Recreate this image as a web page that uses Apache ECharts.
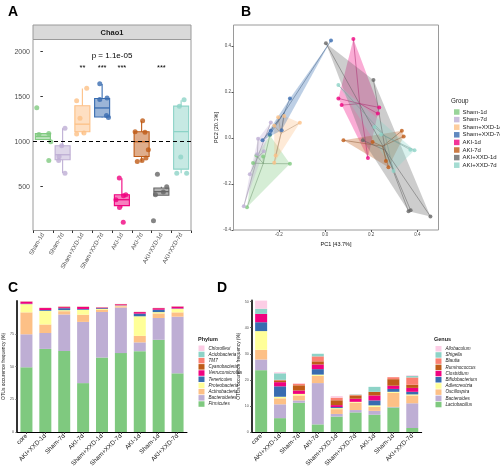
<!DOCTYPE html>
<html><head><meta charset="utf-8">
<script src="https://cdn.jsdelivr.net/npm/echarts@6/dist/echarts.min.js"></script>
<style>html,body{margin:0;padding:0;background:#fff}#c{width:500px;height:469px}</style>
</head><body><div id="c"></div>
<script>
// ---------- Panel A data (Chao1) ----------
const groups = ['Sham-1d','Sham-7d','Sham+XXD-1d','Sham+XXD-7d','AKI-1d','AKI-7d','AKI+XXD-1d','AKI+XXD-7d'];
const groupColors = ['#7FC97F','#BEAED4','#FDC086','#386CB0','#F0027F','#BF5B17','#666666','#8DD3C7'];
// [lower whisker, Q1, median, Q3, upper whisker]
const chaoBox = [
  [1025,1025,1058,1090,1095],
  [652,800,855,955,1150],
  [1085,1110,1195,1400,1590],
  [1270,1275,1375,1480,1640],
  [265,290,355,410,595],
  [780,835,1000,1110,1230],
  [405,405,445,485,500],
  [650,695,1112,1395,1462]
];
// observed samples: [value, horizontal jitter in category units]
const chaoPoints = [
  [[1378,-0.31],[1080,-0.2],[1090,0.3],[1000,0.4],[790,0.3]],
  [[1150,0.12],[955,-0.05],[835,-0.18],[790,-0.2],[650,0.12]],
  [[1595,0.22],[1455,-0.29],[1260,-0.12],[1085,-0.29],[1096,0.08]],
  [[1645,-0.12],[1485,0.25],[1470,-0.12],[1290,0.22],[1270,0.32]],
  [[597,-0.13],[410,0.2],[400,0.08],[356,-0.3],[270,-0.12],[104,0.07]],
  [[1232,0.05],[1110,-0.33],[1105,0.17],[910,0.34],[820,0.22],[790,0.02],[780,-0.22]],
  [[637,-0.2],[500,0.27],[440,0.1],[410,-0.3],[122,-0.4]],
  [[1465,0.15],[1395,-0.09],[830,-0.02],[650,-0.22],[650,0.28]]
];
const chaoSig = ['','','**','***','***','','***',''];
const chaoP = 'p = 1.1e-05';
const chaoRef = 1000;
const chaoTicks = [500,1000,1500,2000];

// ---------- Panel B data (PCoA) ----------
const pcoaSham1d = [[-0.239,0.012],[-0.297,-0.076],[-0.268,-0.08],[-0.312,-0.109],[-0.152,-0.112],[-0.338,-0.301]];
const pcoaSham7d = [[-0.235,0.067],[-0.29,-0.003],[-0.265,-0.058],[-0.294,-0.071],[-0.326,-0.158],[-0.352,-0.297]];
const pcoaShamXXD1d = [[-0.203,0.09],[-0.177,0.096],[-0.109,0.066],[-0.22,0.053],[-0.214,-0.076],[-0.22,-0.108]];
const pcoaShamXXD7d = [[0.026,0.424],[-0.152,0.172],[-0.188,0.034],[-0.235,0.031],[-0.239,0.015],[-0.271,-0.01]];
const pcoaAKI1d = [[0.123,0.43],[0.058,0.172],[0.072,0.143],[0.235,0.133],[0.229,0.106],[0.186,-0.087]];
const pcoaAKI7d = [[0.08,-0.01],[0.206,-0.017],[0.333,0.031],[0.341,0.007],[0.264,-0.1],[0.275,-0.127]];
const pcoaAKIXXD1d = [[0.004,0.412],[0.21,0.252],[0.164,-0.01],[0.362,-0.319],[0.371,-0.314],[0.457,-0.341]];
const pcoaAKIXXD7d = [[0.058,0.23],[0.214,0.048],[0.243,0.015],[0.37,-0.051],[0.388,-0.053],[0.297,-0.144]];
const pcoaGroups = [pcoaSham1d,pcoaSham7d,pcoaShamXXD1d,pcoaShamXXD7d,pcoaAKI1d,pcoaAKI7d,pcoaAKIXXD1d,pcoaAKIXXD7d];
const pcoaXTicks = [-0.2,0,0.2,0.4];
const pcoaYTicks = [-0.4,-0.2,0,0.2,0.4];

// ---------- Panels C & D data ----------
const barCats = ['core','AKI+XXD-1d','Sham-7d','AKI-7d','Sham+XXD-1d','Sham+XXD-7d','AKI-1d','Sham-1d','AKI+XXD-7d'];
const phyla = ['Firmicutes','Bacteroidetes','Actinobacteria','Proteobacteria','Tenericutes','Verrucomicrobia','Cyanobacteria','TM7','Acidobacteria','Chloroflexi'];
const phylumColors = ['#7FC97F','#BEAED4','#FDC086','#FFFF99','#386CB0','#F0027F','#BF5B17','#FB8072','#8DD3C7','#FCCDE5'];
const firmicutes      = [49.5,63.6,62.0,37.4,57.0,60.4,61.9,70.6,44.9];
const bacteroidetes   = [25.3,12.2,28.0,46.9,34.9,34.9,6.7,16.7,43.4];
const actinobacteria  = [16.8,6.5,2.5,5.5,1.5,1.0,5.0,3.5,3.3];
const proteobacteria  = [6.3,10.5,0.8,3.8,0.8,0.5,15.0,1.0,2.7];
const tenericutes     = [0.3,0.6,1.5,0.6,0.6,0.2,2.0,1.8,0.3];
const verrucomicrobia = [1.6,1.5,0.8,1.5,0.5,0.8,1.2,1.2,1.4];
const cyanobacteria   = [0.1,0.1,0.2,0.1,0.1,0.1,0.1,0.1,0.1];
const tm7             = [0.1,0.1,0.3,0.2,0.1,0.1,0.1,0.1,0.1];
const acidobacteria   = [0.05,0.05,0.05,0.05,0.05,0.05,0.05,0.05,0.05];
const chloroflexi     = [0.05,0.05,0.05,0.05,0.05,0.05,0.05,0.05,0.05];
const phylumValues = [firmicutes,bacteroidetes,actinobacteria,proteobacteria,tenericutes,verrucomicrobia,cyanobacteria,tm7,acidobacteria,chloroflexi];
const phylumTicks = [0,25,50,75];

const genera = ['Lactobacillus','Bacteroides','Oscillospira','Adlercreutzia','Bifidobacterium','Clostridium','Ruminococcus','Blautia','Shigella','Allobaculum'];
const genusColors = ['#7FC97F','#BEAED4','#FDC086','#FFFF99','#386CB0','#F0027F','#BF5B17','#FB8072','#8DD3C7','#FCCDE5'];
const lactobacillus   = [23.7,5.3,11.2,2.9,5.9,7.5,6.6,9.4,1.5];
const bacteroides     = [4.1,5.3,0.9,15.85,1.0,0.9,1.5,0.2,9.5];
const oscillospira    = [3.7,2.3,1.9,2.75,1.85,2.85,1.5,5.4,3.0];
const adlercreutzia   = [7.2,0.6,0.6,0.5,0.4,0.3,0.6,0.4,0.4];
const bifidobacterium = [3.4,4.0,0,2.1,0.4,0,1.9,1.1,1.0];
const clostridium     = [3.2,1.6,1.3,1.8,0.75,1.2,1.9,1.25,1.5];
const ruminococcus    = [0,0.7,2.0,1.2,1.85,1.25,1.4,2.5,1.2];
const blautia         = [0,0.2,0.6,1.9,1.0,0.25,0,0.75,2.8];
const shigella        = [2.0,2.5,0,1.0,0,0.15,1.9,0,0.6];
const allobaculum     = [3.3,0.4,0.2,0,0.6,0,0,0,0.25];
const genusValues = [lactobacillus,bacteroides,oscillospira,adlercreutzia,bifidobacterium,clostridium,ruminococcus,blautia,shigella,allobaculum];
const genusTicks = [0,10,20,30,40,50];

// ---------- helpers ----------
const FONT = 'Liberation Sans, Arial, sans-serif';
function rgba(h,a){const n=parseInt(h.slice(1),16);return 'rgba('+(n>>16&255)+','+(n>>8&255)+','+(n&255)+','+a+')';}
function mix(h1,h2,t){const a=parseInt(h1.slice(1),16),b=parseInt(h2.slice(1),16);
  const f=(s)=>Math.round(((a>>s)&255)*(1-t)+((b>>s)&255)*t);
  return 'rgb('+f(16)+','+f(8)+','+f(0)+')';}
function hull(pts){
  const p=pts.slice().sort((a,b)=>a[0]-b[0]||a[1]-b[1]);
  const cr=(o,a,b)=>(a[0]-o[0])*(b[1]-o[1])-(a[1]-o[1])*(b[0]-o[0]);
  const lo=[],up=[];
  for(const q of p){while(lo.length>=2&&cr(lo[lo.length-2],lo[lo.length-1],q)<=0)lo.pop();lo.push(q);}
  for(let i=p.length-1;i>=0;i--){const q=p[i];while(up.length>=2&&cr(up[up.length-2],up[up.length-1],q)<=0)up.pop();up.push(q);}
  up.pop();lo.pop();return lo.concat(up);
}
const centroid=(pts)=>[pts.reduce((s,p)=>s+p[0],0)/pts.length, pts.reduce((s,p)=>s+p[1],0)/pts.length];

const chart = echarts.init(document.getElementById('c'));

const series = [];
// Panel A boxes
series.push({
  type:'custom', xAxisIndex:0, yAxisIndex:0, silent:true,
  data: chaoBox.map((b,i)=>[i].concat(b)),
  renderItem:(params,api)=>{
    const i=api.value(0), c=groupColors[i];
    const lo=api.coord([i,api.value(1)]), q1=api.coord([i,api.value(2)]), md=api.coord([i,api.value(3)]),
          q3=api.coord([i,api.value(4)]), hi=api.coord([i,api.value(5)]);
    const w=api.size([1,0])[0]*0.76;
    return {type:'group',children:[
      {type:'line',shape:{x1:lo[0],y1:lo[1],x2:q1[0],y2:q1[1]},style:{stroke:c,lineWidth:1.1}},
      {type:'line',shape:{x1:q3[0],y1:q3[1],x2:hi[0],y2:hi[1]},style:{stroke:c,lineWidth:1.1}},
      {type:'rect',shape:{x:q1[0]-w/2,y:q3[1],width:w,height:Math.max(q1[1]-q3[1],1)},style:{fill:rgba(c,0.5),stroke:c,lineWidth:1.1}},
      {type:'line',shape:{x1:md[0]-w/2,y1:md[1],x2:md[0]+w/2,y2:md[1]},style:{stroke:c,lineWidth:1.3}}
    ]};
  }
});
// Panel A points + reference line
const aPts=[];
chaoPoints.forEach((arr,i)=>arr.forEach(p=>aPts.push({value:[i+p[1],p[0]],itemStyle:{color:groupColors[i]}})));
series.push({
  type:'scatter', xAxisIndex:1, yAxisIndex:0, symbolSize:5, silent:true, data:aPts,
  markLine:{silent:true,symbol:'none',label:{show:false},lineStyle:{color:'#000',type:[4,3],width:1.2},data:[{yAxis:chaoRef}]}
});
// Panel A annotations
const sigLevel=1822, pLevel=1960;
series.push({
  type:'custom', xAxisIndex:1, yAxisIndex:0, silent:true,
  data: chaoSig.map((s,i)=>[i,sigLevel]).concat([[3.5,pLevel]]),
  renderItem:(params,api)=>{
    const idx=params.dataIndex, pt=api.coord([api.value(0),api.value(1)]);
    const txt= idx<chaoSig.length ? chaoSig[idx] : chaoP;
    return {type:'text',x:pt[0],y:pt[1],style:{text:txt,fill:'#000',fontSize: idx<chaoSig.length?7.5:8,fontFamily:FONT,align:'center',verticalAlign:'middle'}};
  }
});
// Panel B hulls
series.push({
  type:'custom', xAxisIndex:2, yAxisIndex:1, silent:true, clip:true,
  data: pcoaGroups.map((g,i)=>centroid(g).concat([i])),
  renderItem:(params,api)=>{
    const i=params.dataIndex, h=hull(pcoaGroups[i]).map(p=>api.coord(p));
    return {type:'polygon',shape:{points:h},style:{fill:rgba(groupColors[i],0.33),stroke:'none'}};
  }
});
// Panel B spider lines
series.push({
  type:'custom', xAxisIndex:2, yAxisIndex:1, silent:true,
  data: pcoaGroups.map((g,i)=>centroid(g).concat([i])),
  renderItem:(params,api)=>{
    const i=params.dataIndex, c=api.coord([api.value(0),api.value(1)]);
    const col=mix(groupColors[i],'#555555',0.45);
    return {type:'group',children:pcoaGroups[i].map(p=>{const q=api.coord(p);
      return {type:'line',shape:{x1:c[0],y1:c[1],x2:q[0],y2:q[1]},style:{stroke:col,lineWidth:0.6,opacity:0.85}};})};
  }
});
// Panel B points
pcoaGroups.forEach((g,i)=>series.push({
  name:groups[i], type:'scatter', xAxisIndex:2, yAxisIndex:1, symbolSize:4, silent:true,
  itemStyle:{color:groupColors[i]}, data:g
}));
// Panel C bars
phylumValues.forEach((v,k)=>series.push({
  name:phyla[k], type:'bar', stack:'phylum', xAxisIndex:3, yAxisIndex:2, barWidth:12, silent:true,
  itemStyle:{color:phylumColors[k]}, data:v
}));
// Panel D bars
genusValues.forEach((v,k)=>series.push({
  name:genera[k], type:'bar', stack:'genus', xAxisIndex:4, yAxisIndex:3, barWidth:12, silent:true,
  itemStyle:{color:genusColors[k]}, data:v
}));

const tickLabel={color:'#4D4D4D',fontFamily:FONT};
const plain=v=>String(v);
const option={
  animation:false,
  textStyle:{fontFamily:FONT},
  grid:[
    {left:33,top:39.5,width:158,height:191,show:true,borderColor:'#9a9a9a',borderWidth:1,backgroundColor:'#fff'},
    {left:233.5,top:25,width:205,height:205,show:true,borderColor:'#9a9a9a',borderWidth:1,backgroundColor:'#fff'},
    {left:17,top:301,width:170,height:134},
    {left:251.7,top:300.6,width:170,height:134.4}
  ],
  xAxis:[
    {type:'category',gridIndex:0,data:groups,axisLine:{show:false},axisTick:{show:true,length:2.5,lineStyle:{color:'#333'}},
     axisLabel:Object.assign({interval:0,rotate:60,fontSize:6,margin:3},tickLabel),splitLine:{show:false}},
    {type:'value',gridIndex:0,min:-0.5,max:7.5,show:false,splitLine:{show:false}},
    {type:'value',gridIndex:1,min:-0.3966,max:0.4919,axisLine:{show:false,onZero:false},
     axisTick:{show:true,length:2,customValues:pcoaXTicks,lineStyle:{color:'#555'}},
     axisLabel:Object.assign({fontSize:4.5,margin:2.5,customValues:pcoaXTicks,formatter:v=>v.toFixed(1)},tickLabel),
     splitLine:{show:false},name:'PC1 [43.7%]',nameLocation:'middle',nameGap:11,nameTextStyle:{fontSize:5.5,color:'#111',fontFamily:FONT}},
    {type:'category',gridIndex:2,data:barCats,axisLine:{show:true,lineStyle:{color:'#000',width:1}},axisTick:{show:true,length:2,alignWithLabel:true,lineStyle:{color:'#333'}},
     axisLabel:Object.assign({interval:0,rotate:45,fontSize:6.3,margin:3,color:'#222'},{fontFamily:FONT})},
    {type:'category',gridIndex:3,data:barCats,axisLine:{show:true,lineStyle:{color:'#000',width:1}},axisTick:{show:true,length:2,alignWithLabel:true,lineStyle:{color:'#333'}},
     axisLabel:Object.assign({interval:0,rotate:45,fontSize:6.3,margin:3,color:'#222'},{fontFamily:FONT})}
  ],
  yAxis:[
    {type:'value',gridIndex:0,min:13,max:2136,axisLine:{show:false},
     axisTick:{show:true,length:2.5,customValues:chaoTicks,lineStyle:{color:'#333'}},
     axisLabel:Object.assign({fontSize:7,margin:3,customValues:chaoTicks,formatter:plain},tickLabel),splitLine:{show:false}},
    {type:'value',gridIndex:1,min:-0.4,max:0.4913,axisLine:{show:false,onZero:false},
     axisTick:{show:true,length:2,customValues:pcoaYTicks,lineStyle:{color:'#555'}},
     axisLabel:Object.assign({fontSize:4.5,margin:2.5,customValues:pcoaYTicks,formatter:v=>v.toFixed(1)},tickLabel),
     splitLine:{show:false},name:'PC2 [20.1%]',nameLocation:'middle',nameGap:12,nameTextStyle:{fontSize:5.5,color:'#111',fontFamily:FONT}},
    {type:'value',gridIndex:2,min:0,max:100.3,axisLine:{show:true,lineStyle:{color:'#333',width:2}},
     axisTick:{show:true,length:1.5,customValues:phylumTicks,lineStyle:{color:'#555'}},
     axisLabel:Object.assign({fontSize:3.6,margin:3,customValues:phylumTicks,formatter:plain},tickLabel),splitLine:{show:false},
     name:'OTUs occurence frequency (%)',nameLocation:'middle',nameGap:8,nameTextStyle:{fontSize:4.8,color:'#222',fontFamily:FONT}},
    {type:'value',gridIndex:3,min:0,max:50.4,axisLine:{show:true,lineStyle:{color:'#333',width:2}},
     axisTick:{show:true,length:1.5,customValues:genusTicks,lineStyle:{color:'#555'}},
     axisLabel:Object.assign({fontSize:3.6,margin:3,customValues:genusTicks,formatter:plain},tickLabel),splitLine:{show:false},
     name:'OTUs occurence frequency (%)',nameLocation:'middle',nameGap:8,nameTextStyle:{fontSize:4.8,color:'#222',fontFamily:FONT}}
  ],
  legend:[
    {data:groups,left:449,top:104,orient:'vertical',icon:'rect',itemWidth:5.5,itemHeight:5.5,itemGap:1.6,selectedMode:false,
     textStyle:{fontSize:6,color:'#222',fontFamily:FONT,lineHeight:6,padding:[0,0,0,-2]}},
    {data:phyla.slice().reverse(),left:193.5,top:340.5,orient:'vertical',icon:'rect',itemWidth:6,itemHeight:5.5,itemGap:0.7,selectedMode:false,
     textStyle:{fontSize:4.6,fontStyle:'italic',color:'#222',fontFamily:FONT,lineHeight:5,padding:[0,0,0,-1]}},
    {data:genera.slice().reverse(),left:430.5,top:341,orient:'vertical',icon:'rect',itemWidth:6,itemHeight:5.5,itemGap:0.7,selectedMode:false,
     textStyle:{fontSize:4.6,fontStyle:'italic',color:'#222',fontFamily:FONT,lineHeight:5,padding:[0,0,0,-1]}}
  ],
  title:[
    {text:'A',left:3,top:0,textStyle:{fontSize:14,fontWeight:'bold',color:'#000',fontFamily:FONT}},
    {text:'B',left:236,top:0,textStyle:{fontSize:14,fontWeight:'bold',color:'#000',fontFamily:FONT}},
    {text:'C',left:3,top:276,textStyle:{fontSize:14,fontWeight:'bold',color:'#000',fontFamily:FONT}},
    {text:'D',left:212,top:276,textStyle:{fontSize:14,fontWeight:'bold',color:'#000',fontFamily:FONT}},
    {text:'Group',left:446,top:93,textStyle:{fontSize:6.3,fontWeight:'normal',color:'#222',fontFamily:FONT}},
    {text:'Phylum',left:193,top:331,textStyle:{fontSize:5.5,fontWeight:'bold',color:'#222',fontFamily:FONT}},
    {text:'Genus',left:429,top:331.5,textStyle:{fontSize:5.5,fontWeight:'bold',color:'#222',fontFamily:FONT}}
  ],
  graphic:[
    {type:'rect',shape:{x:33,y:25,width:158,height:14.5},style:{fill:'#D9D9D9',stroke:'#9a9a9a',lineWidth:1},z:10},
    {type:'text',x:112,y:32.5,style:{text:'Chao1',fontSize:7.5,fontWeight:'bold',fill:'#1a1a1a',fontFamily:FONT,align:'center',verticalAlign:'middle'},z:11}
  ],
  series:series
};
chart.setOption(option);
</script>
</body></html>
